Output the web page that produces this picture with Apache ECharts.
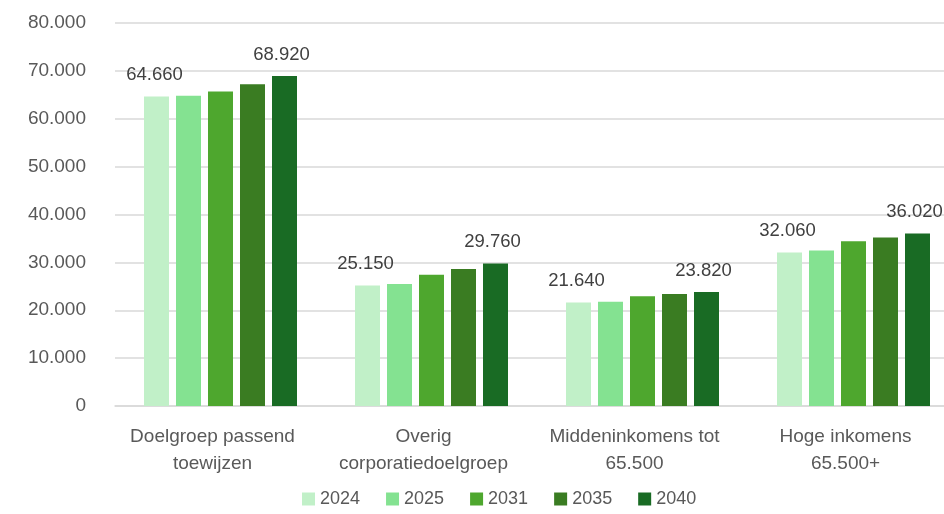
<!DOCTYPE html>
<html>
<head>
<meta charset="utf-8">
<script src="https://cdn.jsdelivr.net/npm/echarts@6/dist/echarts.min.js"></script>
<style>
  html, body { margin: 0; padding: 0; background: #fff; }
  #main { width: 944px; height: 514px; }
</style>
</head>
<body>
<div id="main"></div>
<script>
// categorieën en reeksen
let categories = ["Doelgroep passend\ntoewijzen", "Overig\ncorporatiedoelgroep", "Middeninkomens tot\n65.500", "Hoge inkomens\n65.500+"];
let years = ["2024", "2025", "2031", "2035", "2040"];
let v2024 = [64660, 25150, 21640, 32060];
let v2025 = [64800, 25500, 21800, 32500];
let v2031 = [65700, 27400, 22900, 34400];
let v2035 = [67200, 28600, 23400, 35200];
let v2040 = [68920, 29760, 23820, 36020];
let colors = ["#C1F0C8", "#84E291", "#4EA72E", "#3A7C22", "#196B24"];
let labelYears = ["2024", "2040"]; // alleen deze krijgen een label

function fmt(n) {
  return String(n).replace(/\B(?=(\d{3})+(?!\d))/g, ".");
}

let chart = echarts.init(document.getElementById("main"));
let allValues = [v2024, v2025, v2031, v2035, v2040];

let series = years.map((y, i) => ({
  name: y,
  type: "bar",
  barWidth: 25,
  barGap: "28%",
  itemStyle: { color: colors[i] },
  label: {
    show: labelYears.indexOf(y) > -1,
    position: "top",
    distance: 12,
    offset: [y === "2040" ? -3 : -2, 0],
    color: "#404040",
    fontSize: 18.5,
    fontFamily: "Liberation Sans, Arial",
    formatter: p => fmt(p.value)
  },
  data: allValues[i]
}));

let option = {
  animation: false,
  textStyle: { fontFamily: "Liberation Sans, Arial" },
  color: colors,
  // plot loopt rechts iets buiten beeld door
  grid: { left: 115, top: 23, width: 844, height: 383, outerBoundsMode: "none", containLabel: false },
  legend: {
    left: 297,
    top: 485,
    itemWidth: 13,
    itemHeight: 13,
    itemGap: 26,
    icon: "rect",
    textStyle: { color: "#595959", fontSize: 18 },
    data: years
  },
  xAxis: {
    type: "category",
    data: categories,
    axisLine: { lineStyle: { color: "#d9d9d9", width: 1.5 } },
    axisTick: { show: false },
    axisLabel: {
      color: "#595959",
      fontSize: 19,
      lineHeight: 27,
      margin: 17,
      padding: [0, 16, 0, 0],
      interval: 0
    }
  },
  yAxis: {
    type: "value",
    min: 0,
    max: 80000,
    interval: 10000,
    axisLine: { show: false },
    axisTick: { show: false },
    splitLine: { lineStyle: { color: "#d9d9d9", width: 1.5 } },
    axisLabel: {
      color: "#595959",
      fontSize: 19,
      margin: 29,
      formatter: v => fmt(v)
    }
  },
  series: series
};

chart.setOption(option, true);
</script>
</body>
</html>
